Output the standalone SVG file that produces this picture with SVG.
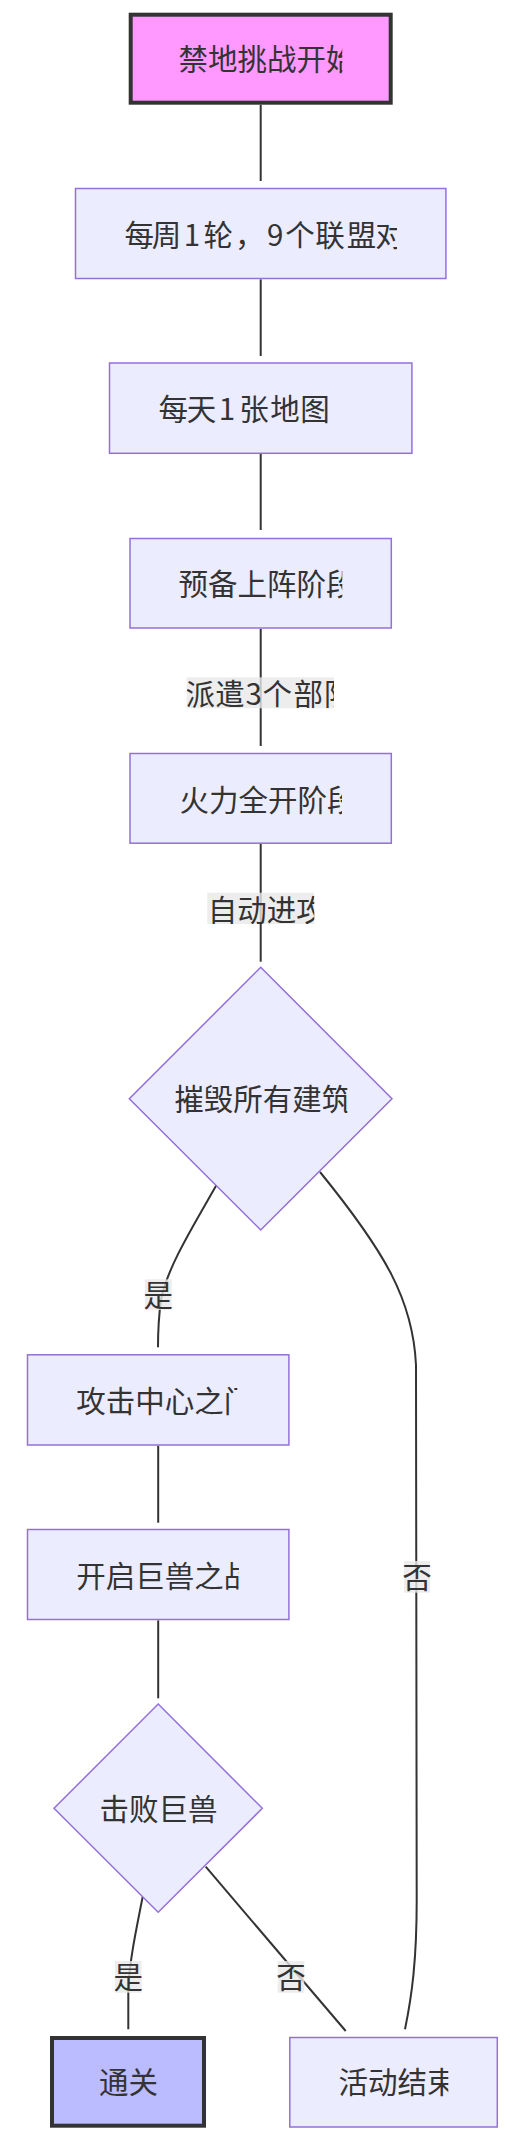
<svg xmlns="http://www.w3.org/2000/svg" width="520" height="2146" viewBox="0 0 520 2146">
<style>
  .node { fill: #ECECFF; stroke: #9370DB; stroke-width: 1.5; }
  .start { fill: #ff99ff; stroke: #333333; stroke-width: 4; }
  .done { fill: #bbbbff; stroke: #333333; stroke-width: 4; }
  .edge { fill: none; stroke: #333333; stroke-width: 2; }
  .lblbg { fill: #e8e8e8; fill-opacity: 0.8; }
  text { font-family: "Noto Sans CJK SC", "Noto Sans", sans-serif; font-size: 29.5px; fill: #333333; }
</style>
<defs>
  <clipPath id="c1"><rect x="120" y="0" width="222.3" height="120"/></clipPath>
  <clipPath id="c2"><rect x="100" y="180" width="297" height="120"/></clipPath>
  <clipPath id="c4"><rect x="120" y="530" width="222.3" height="100"/></clipPath>
  <clipPath id="c5"><rect x="120" y="750" width="222" height="100"/></clipPath>
  <clipPath id="c6"><rect x="150" y="1050" width="197.3" height="100"/></clipPath>
  <clipPath id="c7"><rect x="40" y="1350" width="197.3" height="100"/></clipPath>
  <clipPath id="c8"><rect x="40" y="1525" width="199" height="100"/></clipPath>
  <clipPath id="c11"><rect x="300" y="2040" width="148.3" height="90"/></clipPath>
  <clipPath id="e1"><rect x="186.7" y="677.3" width="147.3" height="31"/></clipPath>
  <clipPath id="e2"><rect x="207.3" y="892.7" width="107" height="31.3"/></clipPath>
</defs>

<g id="edges">
  <path class="edge" d="M260.7,104.7 L260.7,181"/>
  <path class="edge" d="M260.7,279.3 L260.7,356"/>
  <path class="edge" d="M260.7,454 L260.7,530"/>
  <path class="edge" d="M260.7,628.7 L260.7,746"/>
  <path class="edge" d="M260.7,844 L260.7,961.7"/>
  <path class="edge" d="M216.5,1185 C192,1228 167,1268 161,1300 C158.5,1318 158,1332 158,1347.3"/>
  <path class="edge" d="M320,1172 C385,1252 413,1300 416,1365 L416.7,1900 C416.7,1960 412,1995 405,2029.3"/>
  <path class="edge" d="M158.2,1445.7 L158.2,1522.7"/>
  <path class="edge" d="M158.2,1620.3 L158.2,1698.3"/>
  <path class="edge" d="M142.7,1896.7 C135,1935 129,1965 128.3,1990 L128.3,2029.3"/>
  <path class="edge" d="M205.7,1866.7 L345.7,2031"/>
</g>

<g id="edge-labels">
  <g id="label-dispatch">
    <rect class="lblbg" x="186.7" y="677.3" width="147.3" height="31"/>
    <text x="185.5 215.2 245.5 262.5 293.5 323.5" y="705" clip-path="url(#e1)">派遣3个部队</text>
  </g>
  <g id="label-auto">
    <rect class="lblbg" x="207.3" y="892.7" width="107" height="31.3"/>
    <text x="207.8" y="921" clip-path="url(#e2)">自动进攻</text>
  </g>
  <g id="label-yes1">
    <rect class="lblbg" x="145" y="1279.3" width="26.7" height="30.7"/>
    <text x="158.3" y="1305.5" text-anchor="middle">是</text>
  </g>
  <g id="label-no1">
    <rect class="lblbg" x="404" y="1561" width="26" height="31.7"/>
    <text x="417" y="1588" text-anchor="middle">否</text>
  </g>
  <g id="label-yes2">
    <rect class="lblbg" x="115" y="1961" width="26.7" height="31.7"/>
    <text x="128.3" y="1988" text-anchor="middle">是</text>
  </g>
  <g id="label-no2">
    <rect class="lblbg" x="277.7" y="1961" width="26.6" height="31.7"/>
    <text x="291" y="1988" text-anchor="middle">否</text>
  </g>
</g>

<g id="start">
  <rect class="start" x="130.7" y="14.7" width="260" height="88"/>
  <text x="178.5" y="70" clip-path="url(#c1)">禁地挑战开始</text>
</g>
<g id="weekly">
  <rect class="node" x="75.5" y="188.5" width="370.4" height="90"/>
  <text x="124.5 151.8 183.7 203.5 235 267 285.2 315.2 346.8 375.2 404.5" y="246" clip-path="url(#c2)">每周1轮，9个联盟对战</text>
</g>
<g id="daily">
  <rect class="node" x="109.5" y="363" width="302.4" height="90.3"/>
  <text x="158.5 186.8 218.7 239.2 270.2 300.2" y="419.7">每天1张地图</text>
</g>
<g id="prepare">
  <rect class="node" x="130" y="538.5" width="261.3" height="89.5"/>
  <text x="178.5" y="595" clip-path="url(#c4)">预备上阵阶段</text>
</g>
<g id="fire">
  <rect class="node" x="130" y="753.5" width="261.3" height="89.7"/>
  <text x="179.5" y="811" clip-path="url(#c5)">火力全开阶段</text>
</g>
<g id="destroy">
  <polygon class="node" points="260.7,967.3 392,1098.7 260.7,1230 129.3,1098.7"/>
  <text x="174.2" y="1110" clip-path="url(#c6)">摧毁所有建筑</text>
</g>
<g id="center-gate">
  <rect class="node" x="27.5" y="1354.8" width="261.4" height="90.2"/>
  <text x="76.2" y="1412" clip-path="url(#c7)">攻击中心之门</text>
</g>
<g id="beast-battle">
  <rect class="node" x="27.5" y="1529.5" width="261.4" height="90"/>
  <text x="76.2" y="1587" clip-path="url(#c8)">开启巨兽之战</text>
</g>
<g id="defeat">
  <polygon class="node" points="158.2,1704 262.3,1808.3 158.2,1912.3 54,1808.3"/>
  <text x="158.4" y="1820" text-anchor="middle">击败巨兽</text>
</g>
<g id="clear">
  <rect class="done" x="52" y="2038" width="152" height="87.7"/>
  <text x="128.5" y="2093" text-anchor="middle">通关</text>
</g>
<g id="end">
  <rect class="node" x="289.8" y="2037.5" width="207.5" height="89.5"/>
  <text x="338.5" y="2093" clip-path="url(#c11)">活动结束</text>
</g>
</svg>
